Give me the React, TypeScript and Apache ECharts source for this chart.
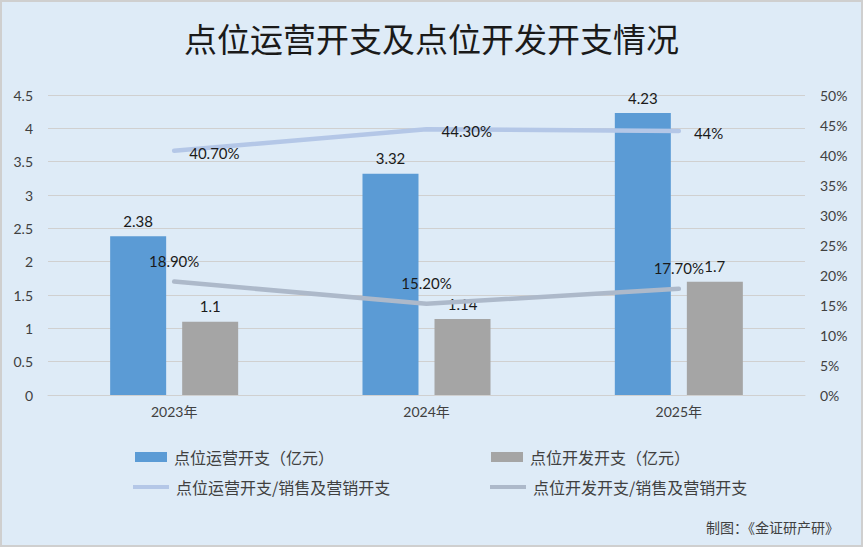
import React, { useEffect, useRef } from "react";
import * as echarts from "echarts";

const categories = ["2023年", "2024年", "2025年"];
const opsSpend = [2.38, 3.32, 4.23];
const devSpend = [1.1, 1.14, 1.7];
const opsRatio = [40.7, 44.3, 44];
const devRatio = [18.9, 15.2, 17.7];
const opsRatioLabels = ["40.70%", "44.30%", "44%"];
const devRatioLabels = ["18.90%", "15.20%", "17.70%"];
const seriesNames = [
  "点位运营开支（亿元）",
  "点位开发开支（亿元）",
  "点位运营开支/销售及营销开支",
  "点位开发开支/销售及营销开支",
];
const titleText = "点位运营开支及点位开发开支情况";
const sourceText = "制图：《金证研产研》";

const CJK = "'Noto Sans CJK SC', sans-serif";
const NUM = "Lato, 'Noto Sans CJK SC', sans-serif";

export default function App() {
  const ref = useRef<HTMLDivElement>(null);
  useEffect(() => {
    document.body.style.margin = "0";
    const chart = echarts.init(ref.current!, null, { renderer: "svg" });
    const legendCommon = {
      orient: "horizontal",
      itemGap: 0,
      textStyle: { fontFamily: CJK, fontSize: 16, color: "#404040", padding: [0, 0, 0, 2] },
      padding: 0,
    };
    chart.setOption({
      animation: false,
      backgroundColor: "#DEEBF7",
      title: {
        text: titleText,
        left: "center",
        top: 16,
        textStyle: { fontFamily: CJK, fontSize: 33, fontWeight: "normal", color: "#1a1a1a" },
      },
      grid: { left: 48, right: 58, top: 95, bottom: 152, containLabel: false },
      legend: [
        { ...legendCommon, data: [{ name: seriesNames[0], icon: "rect" }], left: 135, top: 449, itemWidth: 32, itemHeight: 10 },
        { ...legendCommon, data: [{ name: seriesNames[1], icon: "rect" }], left: 491, top: 449, itemWidth: 32, itemHeight: 10 },
        { ...legendCommon, data: [{ name: seriesNames[2], icon: "rect" }], left: 133, top: 479, itemWidth: 36, itemHeight: 4 },
        { ...legendCommon, data: [{ name: seriesNames[3], icon: "rect" }], left: 490, top: 479, itemWidth: 36, itemHeight: 4 },
      ],
      xAxis: {
        type: "category",
        data: categories,
        axisTick: { show: false },
        axisLine: { show: true, lineStyle: { color: "#D0D0D0", width: 1 } },
        axisLabel: { fontFamily: NUM, fontSize: 14, color: "#404040", margin: 9 },
      },
      yAxis: [
        {
          type: "value",
          min: 0,
          max: 4.5,
          interval: 0.5,
          axisLine: { show: false },
          axisTick: { show: false },
          splitLine: { lineStyle: { color: "#D0D0D0", width: 1 } },
          axisLabel: { fontFamily: NUM, fontSize: 14, color: "#404040", margin: 15 },
        },
        {
          type: "value",
          min: 0,
          max: 50,
          interval: 5,
          axisLine: { show: false },
          axisTick: { show: false },
          splitLine: { show: false },
          axisLabel: { fontFamily: NUM, fontSize: 14, color: "#404040", margin: 15, formatter: "{value}%" },
        },
      ],
      series: [
        {
          name: seriesNames[0],
          type: "bar",
          data: opsSpend,
          barWidth: 56,
          barGap: "28.6%",
          itemStyle: { color: "#5B9BD5" },
          label: { show: true, position: "top", distance: 8, fontFamily: NUM, fontSize: 15, color: "#1a1a1a" },
          z: 2,
        },
        {
          name: seriesNames[1],
          type: "bar",
          data: devSpend,
          barWidth: 56,
          itemStyle: { color: "#A5A5A5" },
          label: { show: true, position: "top", distance: 8, fontFamily: NUM, fontSize: 15, color: "#1a1a1a" },
          z: 2,
        },
        {
          name: seriesNames[2],
          type: "line",
          yAxisIndex: 1,
          data: opsRatio,
          symbol: "circle",
          symbolSize: 0.1,
          showSymbol: true,
          lineStyle: { color: "#B4C7E7", width: 4.5, cap: "round" },
          itemStyle: { color: "#B4C7E7" },
          label: {
            show: true,
            position: "right",
            distance: 15,
            offset: [0, 2],
            fontFamily: NUM,
            fontSize: 15,
            color: "#1a1a1a",
            formatter: (p: any) => opsRatioLabels[p.dataIndex],
          },
          z: 3,
        },
        {
          name: seriesNames[3],
          type: "line",
          yAxisIndex: 1,
          data: devRatio,
          symbol: "circle",
          symbolSize: 0.1,
          showSymbol: true,
          lineStyle: { color: "#ADB9CA", width: 4.5, cap: "round" },
          itemStyle: { color: "#ADB9CA" },
          label: {
            show: true,
            position: "top",
            distance: 13,
            fontFamily: NUM,
            fontSize: 15,
            color: "#1a1a1a",
            formatter: (p: any) => devRatioLabels[p.dataIndex],
          },
          z: 3,
        },
      ],
      graphic: [
        {
          type: "rect",
          shape: { x: 1, y: 1, width: 861, height: 545 },
          style: { fill: "none", stroke: "#CFCFCF", lineWidth: 2 },
          silent: true,
        },
        {
          type: "text",
          right: 24,
          top: 520,
          style: { text: sourceText, fontFamily: CJK, fontSize: 14, fill: "#404040" },
        },
      ],
    });
    return () => chart.dispose();
  }, []);
  return (
    <div
      ref={ref}
      style={{ position: "absolute", left: 0, top: 0, width: 863, height: 547 }}
    />
  );
}
